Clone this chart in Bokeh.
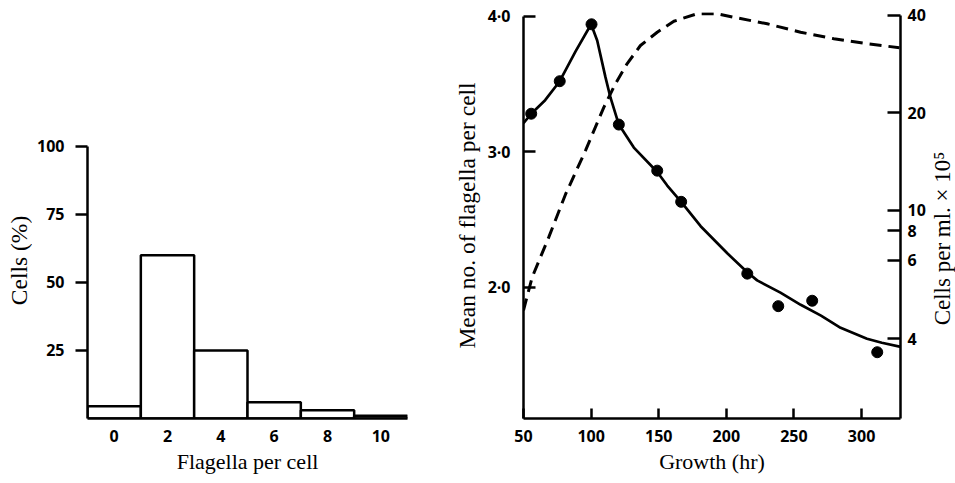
import math
from bokeh.plotting import figure
from bokeh.models import Range1d, LogScale, LogAxis, FixedTicker, Label
from bokeh.layouts import row
from bokeh.embed import file_html
from bokeh.resources import INLINE

# ---------------- data: histogram ----------------
flagella_counts = [0, 2, 4, 6, 8, 10]
cells_percent = [4.5, 60, 25, 6, 3, 1]
hist_yticks = [25, 50, 75, 100]

# ---------------- data: growth curves ----------------
growth_hr = [55.7, 76.8, 100.3, 120.5, 148.9, 166.6, 215.5, 238.4, 263.5, 311.6]
mean_flagella = [3.28, 3.52, 3.94, 3.20, 2.86, 2.63, 2.10, 1.86, 1.90, 1.52]

fit_hr = [50, 55.7, 66, 76.8, 88.5, 100, 104.5, 110.6, 114.3, 120.5, 131.6, 148.9,
          156.3, 166.6, 181, 200.7, 215.5, 222.8, 240, 255, 270, 284.5, 304, 315, 329]
fit_flagella = [3.21, 3.28, 3.38, 3.52, 3.74, 3.94, 3.82, 3.55, 3.40, 3.20, 3.03, 2.85,
                2.75, 2.63, 2.45, 2.25, 2.11, 2.05, 1.96, 1.87, 1.79, 1.70, 1.62, 1.59, 1.56]

cells_hr = [50, 56.4, 68.7, 81.1, 95.9, 109.4, 118.0, 126.7, 136.5, 148.9, 161.2,
            178.5, 193.3, 205.6, 230.2, 254.9, 279.5, 304.2, 328]
cells_per_ml = [4.9, 6.2, 8.25, 11.2, 15.3, 20.8, 24.6, 28.4, 32.3, 35.5, 38.4,
                40.5, 40.5, 39.5, 37.7, 35.5, 33.9, 32.7, 31.8]

growth_xticks = [50, 100, 150, 200, 250, 300]
flag_yticks = [2, 3, 4]
flag_ylabels = ["2·0", "3·0", "4·0"]
cells_tick_pos = [40, 20, 10, 8.65, 7.0, 4]
cells_tick_labels = ["40", "20", "10", "8", "6", "4"]

SANS = "Open Sans"
SERIF = "Liberation Serif"
TICK_SIZE = "16px"
TITLE_SIZE = "22px"
VTITLE_SIZE = "23.5px"

TOP = 12
BOTTOM = 65


def style_axis(ax):
    ax.axis_line_width = 2.5
    ax.axis_line_color = "black"
    ax.major_tick_line_width = 2.5
    ax.major_tick_line_color = "black"
    ax.minor_tick_line_color = None
    ax.major_label_text_font = SANS
    ax.major_label_text_font_style = "bold"
    ax.major_label_text_font_size = TICK_SIZE
    ax.major_label_text_color = "black"
    ax.axis_label_text_font = SERIF
    ax.axis_label_text_font_style = "normal"
    ax.axis_label_text_font_size = TITLE_SIZE
    ax.axis_label_text_color = "black"


def strip(width, text, x, y, size):
    s = figure(width=width, height=483, output_backend="svg", toolbar_location=None,
               x_axis_type=None, y_axis_type=None,
               min_border_left=0, min_border_right=0, min_border_top=TOP,
               min_border_bottom=BOTTOM)
    s.outline_line_color = None
    s.grid.visible = False
    s.add_layout(Label(x=x, y=y, x_units="screen", y_units="screen",
                       text=text, angle=math.pi / 2,
                       text_align="center", text_baseline="middle",
                       text_font=SERIF, text_font_size=size, text_color="black"))
    return s


# ---------------- left strip: title of histogram y axis ----------------
p0 = strip(32, "Cells (%)", 18, 158, VTITLE_SIZE)

# ---------------- left: histogram ----------------
p1 = figure(width=408, height=483, output_backend="svg", toolbar_location=None,
            x_range=Range1d(-1, 11), y_range=Range1d(0, 149.26),
            min_border_left=55, min_border_right=33, min_border_top=TOP,
            min_border_bottom=BOTTOM)
p1.outline_line_color = None
p1.grid.visible = False
p1.vbar(x=flagella_counts, width=2, top=cells_percent, bottom=0,
        fill_color="white", line_color="black", line_width=2.5)

for ax in p1.axis:
    style_axis(ax)
p1.xaxis.ticker = FixedTicker(ticks=flagella_counts)
p1.xaxis.major_tick_line_color = None
p1.xaxis.major_tick_in = 0
p1.xaxis.major_tick_out = 0
p1.xaxis.major_label_standoff = 11
p1.xaxis.axis_label = "Flagella per cell"
p1.xaxis.axis_label_standoff = 4
p1.yaxis.ticker = FixedTicker(ticks=hist_yticks)
p1.yaxis.major_tick_out = 12
p1.yaxis.major_tick_in = 0
p1.yaxis.major_label_standoff = 11
p1.yaxis.bounds = (0, 100)

# ---------------- middle: growth ----------------
p2 = figure(width=490, height=483, output_backend="svg", toolbar_location=None,
            x_range=Range1d(50, 328.8), y_range=Range1d(1.031, 4.027),
            min_border_left=83, min_border_right=30, min_border_top=TOP,
            min_border_bottom=BOTTOM)
p2.outline_line_color = None
p2.grid.visible = False
p2.extra_y_ranges = {"cells": Range1d(2.268, 40.86)}
p2.extra_y_scales = {"cells": LogScale()}

p2.line(fit_hr, fit_flagella, line_color="black", line_width=2.7)
p2.scatter(growth_hr, mean_flagella, size=11, fill_color="black", line_color="black")
p2.line(cells_hr, cells_per_ml, y_range_name="cells", line_color="black",
        line_width=3, line_dash="12 7")

raxis = LogAxis(y_range_name="cells", ticker=FixedTicker(ticks=cells_tick_pos))
p2.add_layout(raxis, "right")

for ax in p2.axis:
    style_axis(ax)

p2.xaxis.ticker = FixedTicker(ticks=growth_xticks)
p2.xaxis.major_tick_in = 10
p2.xaxis.major_tick_out = 0
p2.xaxis.major_label_standoff = 11
p2.xaxis.axis_label = "Growth (hr)"
p2.xaxis.axis_label_standoff = 4

ly = p2.yaxis[0]
ly.ticker = FixedTicker(ticks=flag_yticks)
ly.major_label_overrides = dict(zip(flag_yticks, flag_ylabels))
ly.major_tick_in = 12
ly.major_tick_out = 0
ly.major_label_standoff = 13
ly.bounds = (1.031, 4.0)
ly.axis_label = "Mean no. of flagella per cell"
ly.axis_label_standoff = 5
ly.axis_label_text_font_size = VTITLE_SIZE

raxis.major_label_overrides = dict(zip(cells_tick_pos, cells_tick_labels))
raxis.major_tick_in = 13
raxis.major_tick_out = 0
raxis.major_label_standoff = 7
raxis.bounds = (2.268, 40)

# ---------------- right strip: title of the right axis ----------------
p3 = strip(25, "Cells per ml. × 10⁵", 12, 180, "23px")

layout = row(p0, p1, p2, p3)
open("out.html", "w").write(file_html(layout, INLINE))
